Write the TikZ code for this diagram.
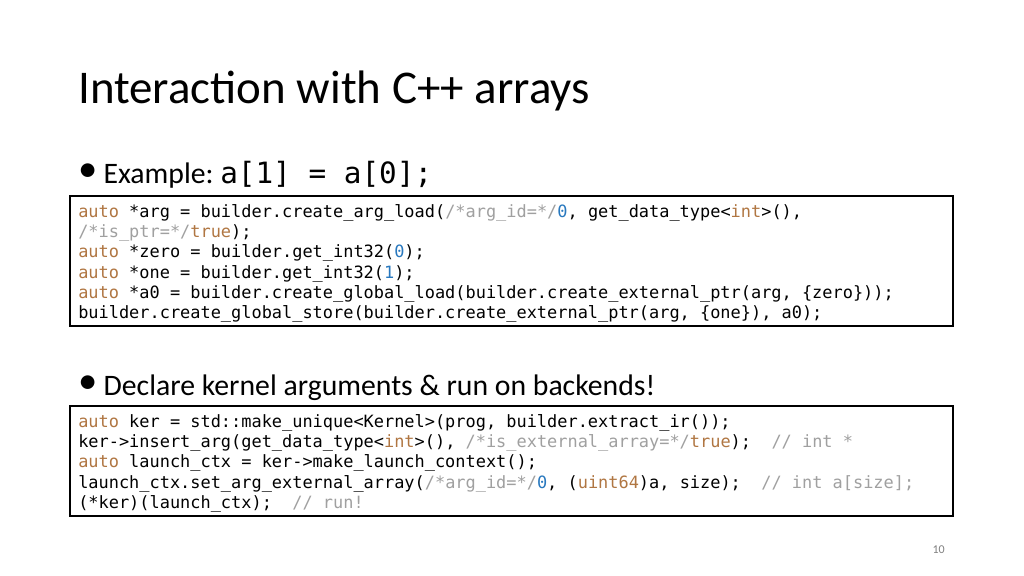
\documentclass[tikz,border=0pt]{standalone}
\usepackage{fontspec}
\setmainfont{Carlito}
\setmonofont{DejaVu Sans Mono}
\definecolor{kw}{RGB}{176,118,66}
\definecolor{cm}{RGB}{160,160,160}
\definecolor{nm}{RGB}{40,120,190}
\newcommand{\Kw}[1]{\textcolor{kw}{#1}}
\newcommand{\Cm}[1]{\textcolor{cm}{#1}}
\newcommand{\Nm}[1]{\textcolor{nm}{#1}}
\newcommand{\bul}{\makebox[19pt][l]{\raisebox{0.05em}{\scalebox{1.3}{\textbullet}}}}
\begin{document}
\begin{tikzpicture}[x=0.75pt,y=-0.75pt,
  codeA/.style={anchor=base west,inner sep=0,font=\ttfamily\fontsize{12.7}{14}\selectfont},
  codeB/.style={anchor=base west,inner sep=0,font=\ttfamily\fontsize{12.7}{14}\selectfont},
  bull/.style={anchor=base west,inner sep=0,font=\fontsize{22.3}{24}\selectfont},
  box/.style={draw=black,line width=1.2pt}]
\useasboundingbox (0,0) rectangle (1024,575);
\fill[white] (0,0) rectangle (1024,575);
\node[anchor=base west,inner sep=0,font=\fontsize{35.2}{40}\selectfont] (title) at (78,103) {Interaction with C++ arrays};
\node[bull] (b1) at (78,183) {\bul Example:};
\node[anchor=base west,inner sep=0,font=\ttfamily\fontsize{22}{24}\selectfont] (ex) at (220,183) {a[1] = a[0];};
\draw[box] (70,196) rectangle (953,326);
\node[codeA] (a1) at (78,217) {\Kw{auto} *arg = builder.create\_arg\_load(\Cm{/*arg\_id=*/}\Nm{0}, get\_data\_type<\Kw{int}>(),};
\node[codeA] (a2) at (78,237) {\Cm{/*is\_ptr=*/}\Kw{true});};
\node[codeA] (a3) at (78,257.5) {\Kw{auto} *zero = builder.get\_int32(\Nm{0});};
\node[codeA] (a4) at (78,278) {\Kw{auto} *one = builder.get\_int32(\Nm{1});};
\node[codeA] (a5) at (78,298) {\Kw{auto} *a0 = builder.create\_global\_load(builder.create\_external\_ptr(arg, \{zero\}));};
\node[codeA] (a6) at (78,318.5) {builder.create\_global\_store(builder.create\_external\_ptr(arg, \{one\}), a0);};
\node[bull] (b2) at (78,395) {\bul Declare kernel arguments \& run on backends!};
\draw[box] (70,406) rectangle (953,516);
\node[codeB] (c1) at (78,427) {\Kw{auto} ker = std::make\_unique<Kernel>(prog, builder.extract\_ir());};
\node[codeB] (c2) at (78,447) {ker->insert\_arg(get\_data\_type<\Kw{int}>(), \Cm{/*is\_external\_array=*/}\Kw{true});\ \ \Cm{// int *}};
\node[codeB] (c3) at (78,467.5) {\Kw{auto} launch\_ctx = ker->make\_launch\_context();};
\node[codeB] (c4) at (78,488) {launch\_ctx.set\_arg\_external\_array(\Cm{/*arg\_id=*/}\Nm{0}, (\Kw{uint64})a, size);\ \ \Cm{// int a[size];}};
\node[codeB] (c5) at (78,508.5) {(*ker)(launch\_ctx);\ \ \Cm{// run!}};
\node[anchor=base east,inner sep=0,text=gray,font=\fontsize{9}{10}\selectfont] (pg) at (945,553) {10};
\end{tikzpicture}
\end{document}
